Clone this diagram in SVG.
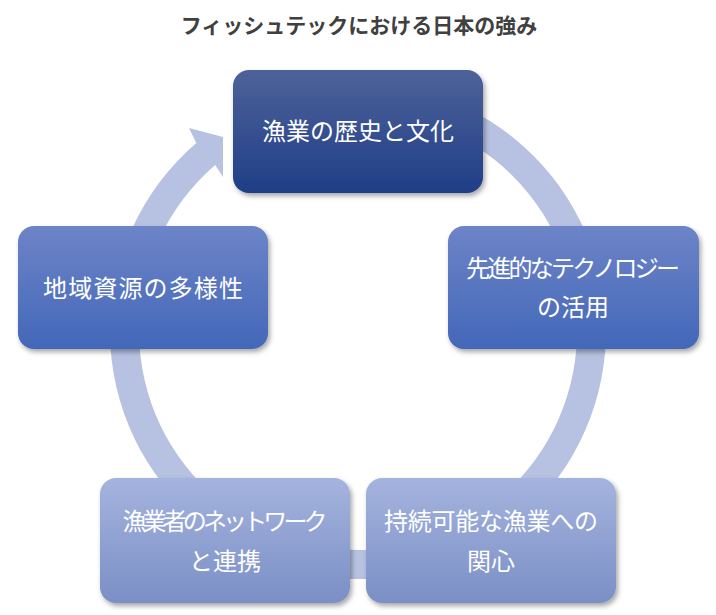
<svg xmlns="http://www.w3.org/2000/svg" width="716" height="615" viewBox="0 0 716 615">
<defs>
<linearGradient id="gTop" x1="0" y1="0" x2="0" y2="1"><stop offset="0" stop-color="#4e6299"/><stop offset="1" stop-color="#1f3e87"/></linearGradient>
<linearGradient id="gMid" x1="0" y1="0" x2="0" y2="1"><stop offset="0" stop-color="#6d84c7"/><stop offset="1" stop-color="#4367b9"/></linearGradient>
<linearGradient id="gBot" x1="0" y1="0" x2="0" y2="1"><stop offset="0" stop-color="#a5b4de"/><stop offset="1" stop-color="#7b8fc6"/></linearGradient>
<filter id="sh" x="-10%" y="-10%" width="125%" height="130%"><feDropShadow dx="2" dy="3" stdDeviation="2.5" flood-color="#000" flood-opacity="0.35"/></filter>
</defs>
<style>
.t{font-family:"Noto Sans CJK JP","Noto Sans",sans-serif;font-size:24px;fill:#ffffff;text-anchor:middle}
.title{font-family:"Noto Sans CJK JP","Noto Sans",sans-serif;font-size:21px;font-weight:bold;fill:#404040;text-anchor:middle}
.box{filter:url(#sh)}
</style>
<rect width="716" height="615" fill="#ffffff"/>
<text class="title" x="359" y="33">フィッシュテックにおける日本の強み</text>
<g id="connectors">
<path d="M442.8,98 A248,248 0 1,1 196.3,143 L189,128 L223,137 L223,177 L215.2,165 A219,219 0 1,0 432.9,125.2 Z" fill="#b7c2e2"/>
</g>
<g id="node1">
<rect class="box" x="233" y="70" width="250" height="123" rx="16" fill="url(#gTop)"/>
<text class="t" x="358" y="140">漁業の歴史と文化</text>
</g>
<g id="node2">
<rect class="box" x="448" y="226" width="251" height="123" rx="16" fill="url(#gMid)"/>
<text class="t" x="573" y="277" textLength="214">先進的なテクノロジー</text>
<text class="t" x="573" y="316">の活用</text>
</g>
<g id="node3">
<rect class="box" x="366" y="478" width="250" height="125" rx="16" fill="url(#gBot)"/>
<text class="t" x="491" y="530" textLength="214">持続可能な漁業への</text>
<text class="t" x="491" y="570">関心</text>
</g>
<g id="node4">
<rect class="box" x="100" y="478" width="250" height="125" rx="16" fill="url(#gBot)"/>
<text class="t" x="225" y="530" textLength="205">漁業者のネットワーク</text>
<text class="t" x="225" y="570">と連携</text>
</g>
<g id="node5">
<rect class="box" x="18" y="226" width="250" height="123" rx="16" fill="url(#gMid)"/>
<text class="t" x="143" y="297" textLength="200">地域資源の多様性</text>
</g>
</svg>
